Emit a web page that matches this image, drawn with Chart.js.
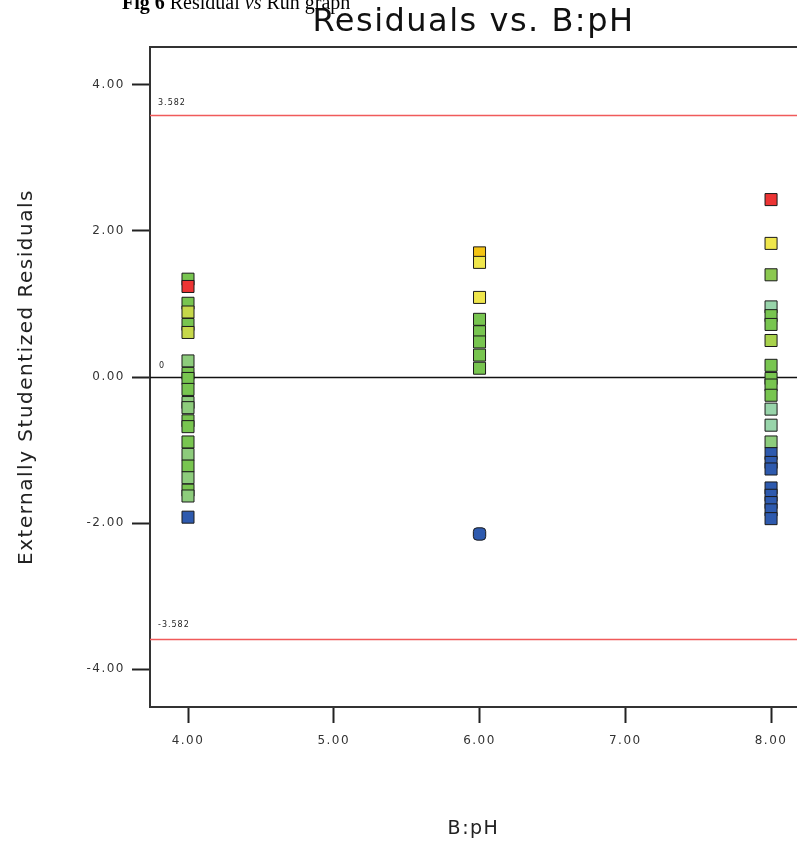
<!DOCTYPE html>
<html>
<head>
<meta charset="utf-8">
<script src="https://cdn.jsdelivr.net/npm/chart.js@4.4.1/dist/chart.umd.min.js"></script>
<style>
  html, body { margin: 0; padding: 0; background: #fff; width: 797px; height: 846px; overflow: hidden; }
  #wrap { position: absolute; left: 0; top: 0; width: 797px; height: 846px; }
  #caption {
    position: absolute; left: 122px; top: -8px;
    font-family: "Liberation Serif", "Times New Roman", serif; font-size: 20px; line-height: 1;
    color: #000; white-space: nowrap;
  }
</style>
</head>
<body>
<div id="wrap"><canvas id="chart" width="797" height="846"></canvas></div>
<div id="caption"><b>Fig 6</b> Residual <i>vs</i> Run graph</div>
<script>
// Factor levels of B:pH and the externally studentized residuals observed at each level
const phLevels = [4, 6, 8];
const residualsAtPH4 = [1.34, 1.24, 1.01, 0.89, 0.72, 0.61, 0.22, 0.05, -0.02, -0.17, -0.35, -0.42,
                        -0.60, -0.68, -0.89, -1.06, -1.22, -1.38, -1.55, -1.63, -1.92];
const residualsAtPH6 = [1.70, 1.57, 1.09, 0.79, 0.62, 0.48, 0.30, 0.12, -2.15];
const residualsAtPH8 = [2.43, 1.83, 1.40, 0.96, 0.84, 0.72, 0.50, 0.16, -0.02, -0.11, -0.25, -0.44,
                        -0.66, -0.89, -1.05, -1.17, -1.26, -1.52, -1.62, -1.72, -1.82, -1.94];

// Axis ticks and the outlier limits (+/- t critical value)
const xTickValues = [4, 5, 6, 7, 8];
const yTickValues = [-4, -2, 0, 2, 4];
const limitValues = [3.582, -3.582];

// Marker fills (run response colour scale)
const RED = '#ec3434', GOLD = '#f4c414', YELLOW = '#efe64c', LIME = '#c6d84a',
      GREEN = '#78c550', GREEN2 = '#8bc850', MINT = '#8dcc7c', TEAL = '#98d4aa', BLUE = '#2e5aae';
const fillPH4 = [GREEN, RED, GREEN, LIME, GREEN, LIME, MINT, GREEN, GREEN, GREEN, MINT, MINT,
                 GREEN, GREEN, GREEN, MINT, GREEN, MINT, GREEN, MINT, BLUE];
const fillPH6 = [GOLD, YELLOW, YELLOW, GREEN, GREEN, GREEN, GREEN, GREEN, BLUE];
const fillPH8 = [RED, YELLOW, GREEN2, TEAL, GREEN, GREEN, '#a8d24c', GREEN, GREEN, GREEN, GREEN, TEAL,
                 TEAL, MINT, BLUE, BLUE, BLUE, BLUE, BLUE, BLUE, BLUE, BLUE];

function column(level, values, fills, styleFor) {
  return {
    data: values.map(v => ({ x: level, y: v })),
    backgroundColor: fills,
    borderColor: '#1a1a1a',
    borderWidth: 1,
    pointStyle: values.map((v, i) => styleFor(i)),
    pointRadius: values.map((v, i) => styleFor(i) === 'rectRounded' ? 7.2 : 8.5),
    pointHoverRadius: 0
  };
}

const FONT = 'DejaVu Sans';

// Reference lines, plot frame and their small annotations
const residualGuides = {
  id: 'residualGuides',
  beforeDraw(chart) {
    chart.ctx.letterSpacing = '1.5px';
  },
  beforeDatasetsDraw(chart) {
    const { ctx, chartArea: a, scales: { y } } = chart;
    ctx.save();
    ctx.lineWidth = 1.5;
    ctx.strokeStyle = '#f05a5a';
    limitValues.forEach(v => {
      const py = Math.round(y.getPixelForValue(v)) + 0.5;
      ctx.beginPath(); ctx.moveTo(a.left, py); ctx.lineTo(a.right, py); ctx.stroke();
    });
    ctx.strokeStyle = '#111';
    const zy = Math.round(y.getPixelForValue(0)) + 0.5;
    ctx.beginPath(); ctx.moveTo(a.left, zy); ctx.lineTo(a.right, zy); ctx.stroke();
    // top edge of the plot frame
    ctx.lineWidth = 2;
    ctx.strokeStyle = '#333';
    ctx.beginPath(); ctx.moveTo(a.left - 1, a.top); ctx.lineTo(a.right, a.top); ctx.stroke();

    ctx.letterSpacing = '1px';
    ctx.fillStyle = '#222';
    ctx.font = '8px "' + FONT + '"';
    ctx.textAlign = 'left';
    ctx.textBaseline = 'alphabetic';
    limitValues.forEach(v => {
      const py = y.getPixelForValue(v);
      ctx.fillText(v.toFixed(3), a.left + 8, py - (v > 0 ? 10 : 12));
    });
    ctx.fillText('0', a.left + 9, zy - 10);
    ctx.restore();
  }
};

new Chart(document.getElementById('chart'), {
  type: 'scatter',
  data: {
    datasets: [
      column(phLevels[0], residualsAtPH4, fillPH4, () => 'rect'),
      column(phLevels[1], residualsAtPH6, fillPH6, i => i === residualsAtPH6.length - 1 ? 'rectRounded' : 'rect'),
      column(phLevels[2], residualsAtPH8, fillPH8, () => 'rect')
    ]
  },
  options: {
    responsive: false,
    animation: false,
    events: [],
    layout: { padding: 0, autoPadding: false },
    plugins: {
      legend: { display: false },
      tooltip: { enabled: false },
      title: {
        display: true,
        text: 'Residuals vs. B:pH',
        fullSize: false,
        color: '#111',
        font: { family: FONT, size: 32, weight: 'normal', lineHeight: 1 },
        padding: { top: 7, bottom: 8 }
      }
    },
    scales: {
      x: {
        type: 'linear',
        min: 3.7393,
        max: 8.178,
        afterBuildTicks: s => { s.ticks = xTickValues.map(v => ({ value: v })); },
        afterFit: s => { s.height = 139; s.paddingLeft = 0; s.paddingRight = 0; },
        grid: { drawOnChartArea: false, drawTicks: true, tickLength: 16, tickWidth: 2, tickColor: '#222' },
        border: { display: true, color: '#333', width: 2 },
        ticks: {
          padding: 11, color: '#333', maxRotation: 0, autoSkip: false,
          font: { family: FONT, size: 12 },
          callback: v => Number(v).toFixed(2)
        },
        title: {
          display: true, text: 'B:pH', color: '#222',
          font: { family: FONT, size: 19, lineHeight: 1 },
          padding: { top: 0, bottom: 7 }
        }
      },
      y: {
        type: 'linear',
        min: -4.52,
        max: 4.52,
        afterBuildTicks: s => { s.ticks = yTickValues.map(v => ({ value: v })); },
        afterFit: s => { s.width = 150; s.paddingTop = 0; s.paddingBottom = 0; },
        grid: { drawOnChartArea: false, drawTicks: true, tickLength: 18, tickWidth: 2, tickColor: '#222' },
        border: { display: true, color: '#333', width: 2 },
        ticks: {
          padding: 7, color: '#333',
          font: { family: FONT, size: 12 },
          callback: v => Number(v).toFixed(2)
        },
        title: {
          display: true, text: 'Externally Studentized Residuals', color: '#222',
          font: { family: FONT, size: 20, lineHeight: 1 },
          padding: { top: 17, bottom: 0 }
        }
      }
    }
  },
  plugins: [residualGuides]
});
</script>
</body>
</html>
